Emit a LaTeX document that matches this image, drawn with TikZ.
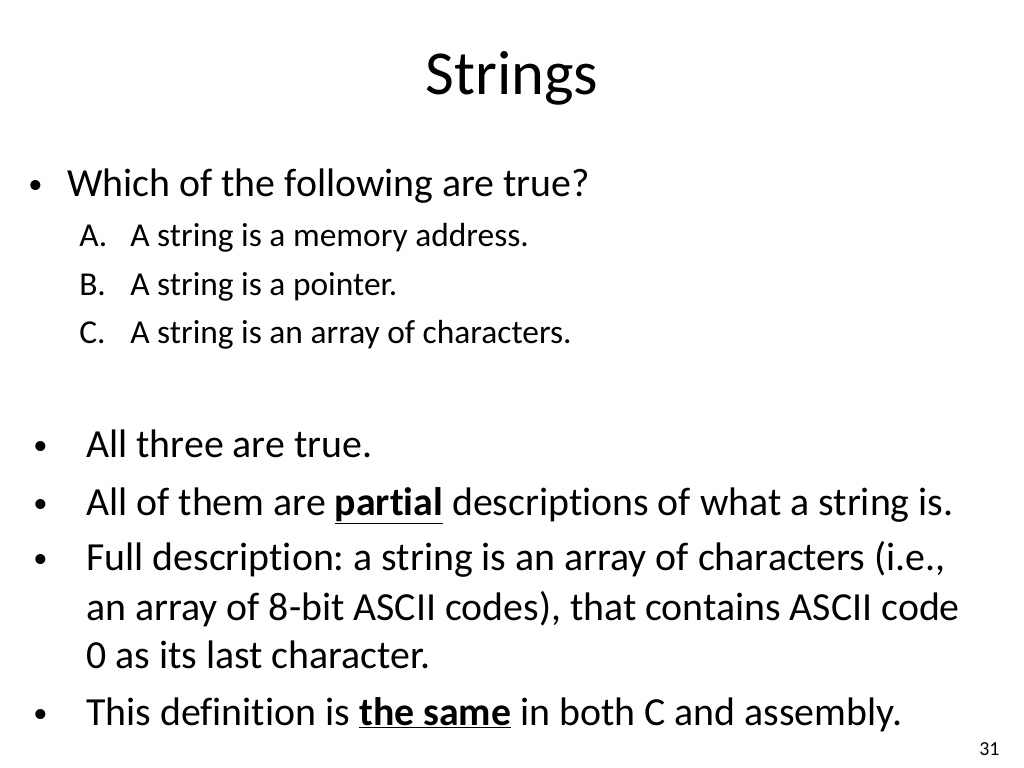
\documentclass[tikz,border=0pt]{standalone}
\usepackage{fontspec}
\setmainfont{Carlito}[Ligatures={NoCommon}]
\frenchspacing
\begin{document}
\begin{tikzpicture}[x=0.703125pt,y=-0.703125pt,
  t/.style={anchor=base west,inner sep=0pt},
  big/.style={t,font=\fontsize{28}{32}\selectfont},
  dot/.style={t,font=\fontsize{20}{32}\selectfont},
  sm/.style={t,font=\fontsize{23.5}{28}\selectfont}]
\useasboundingbox (0,0) rectangle (1024,768);
\node[anchor=base,inner sep=0pt,font=\fontsize{44}{50}\selectfont] (title) at (512,95) {Strings};
\node[dot] (b0) at (28,194) {•};
\node[big] (q) at (67,197) {Which of the following are true?};
\node[sm] (la) at (79,247) {A.};
\node[sm] (a) at (130,247) {A string is a memory address.};
\node[sm] (lb) at (79,296) {B.};
\node[sm] (b) at (130,296) {A string is a pointer.};
\node[sm] (lc) at (79,344) {C.};
\node[sm] (c) at (130,344) {A string is an array of characters.};
\node[dot] (d1) at (33,454) {•};
\node[big] (l1) at (86,457) {All three are true.};
\node[dot] (d2) at (33,512) {•};
\node[big] (l2) at (86,515) {All of them are \underline{\textbf{partial}} descriptions of what a string is.};
\node[dot] (d3) at (33,567) {•};
\node[big] (l3) at (86,570) {Full description: a string is an array of characters (i.e.,};
\node[big] (l4) at (86,620) {an array of 8-bit ASCII codes), that contains ASCII code};
\node[big] (l5) at (86,668) {0 as its last character.};
\node[dot] (d4) at (33,722) {•};
\node[big] (l6) at (86,725) {This definition is \underline{\textbf{the same}} in both C and assembly.};
\node[t,font=\fontsize{14}{16}\selectfont] (pg) at (979,755) {31};
\end{tikzpicture}
\end{document}
